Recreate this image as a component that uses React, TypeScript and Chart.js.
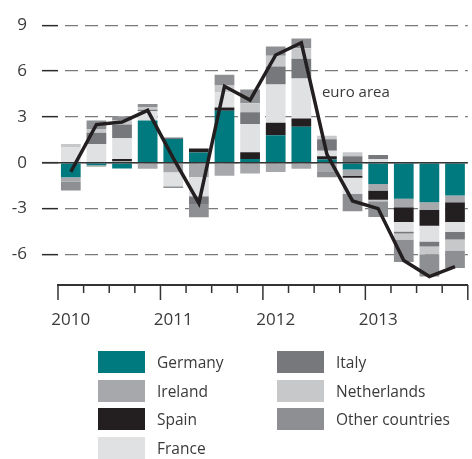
import React, { useEffect, useRef } from 'react';
import { Chart, registerables } from 'chart.js';

Chart.register(...registerables);

// ---------- data ----------
const QUARTERS = [
  '2010 Q1', '2010 Q2', '2010 Q3', '2010 Q4',
  '2011 Q1', '2011 Q2', '2011 Q3', '2011 Q4',
  '2012 Q1', '2012 Q2', '2012 Q3', '2012 Q4',
  '2013 Q1', '2013 Q2', '2013 Q3', '2013 Q4',
];
const Y_TICKS = [-6, -3, 0, 3, 6, 9];

const GERMANY = [-0.95, -0.17, -0.38, 2.77, 1.55, 0.67, 3.4, 0.25, 1.8, 2.36, 0.22, -0.45, -1.39, -2.36, -2.59, -2.14];
const IRELAND = [-0.28, -0.1, 0.1, -0.39, -0.62, -0.93, -0.85, -0.7, -0.6, -0.4, -0.55, -0.42, -0.43, -0.56, -0.51, -0.45];
const SPAIN = [0, 0, 0.15, 0, 0, 0.26, 0.22, 0.43, 0.82, 0.53, 0.2, -0.11, -0.6, -0.96, -1.03, -1.29];
const FRANCE = [1.0, 1.22, 1.35, 0.6, -0.92, -1.27, 1.0, 1.85, 2.5, 2.62, 0.37, -1.05, 0.25, -0.62, -1.03, -0.64];
const ITALY = [0, 0.75, 0.9, 0.1, 0.1, -0.5, 0, 0.78, 1.18, 1.29, 0.75, 0.43, 0.26, -0.13, -0.32, -0.51];
const NETHERLANDS = [0.22, 0.2, 0.26, 0.17, 0, 0, 0.43, 0.58, 0.7, 0.69, 0.22, 0.26, -0.1, -0.4, -0.51, -0.71];
const OTHER = [-0.58, 0.6, 0.28, 0.21, -0.12, -0.86, 0.7, 0.9, 0.6, 0.64, -0.4, -1.14, -1.03, -1.46, -1.46, -1.14];
const EURO_AREA = [-0.6, 2.5, 2.66, 3.43, 0.3, -2.65, 5.0, 4.1, 7.05, 7.85, 0.55, -2.5, -3.0, -6.4, -7.45, -6.8];

const SERIES_LABELS = ['Germany', 'Ireland', 'Spain', 'France', 'Italy', 'Netherlands', 'Other countries'];
const SERIES_VALUES = [GERMANY, IRELAND, SPAIN, FRANCE, ITALY, NETHERLANDS, OTHER];
const SERIES_COLORS = ['#00797f', '#a7a8ab', '#231f20', '#e0e1e3', '#77787b', '#c7c8ca', '#8e8f93'];
const LINE_LABEL = 'euro area';

const FONT = "'Open Sans', 'DejaVu Sans', sans-serif";
const TEXT = '#3a3a3a';

const decor = {
  id: 'decor',
  beforeDatasetDraw(chart: any, args: any) {
    if (args.meta.type !== 'line') return;
    const { ctx, chartArea, scales } = chart;
    const y0 = scales.y.getPixelForValue(0);
    ctx.save();
    ctx.strokeStyle = '#333';
    ctx.lineWidth = 1.5;
    ctx.beginPath();
    ctx.moveTo(chartArea.left - 16, y0);
    ctx.lineTo(chartArea.right, y0);
    ctx.stroke();
    ctx.restore();
  },
  afterDraw(chart: any) {
    const { ctx, chartArea, scales } = chart;
    const xs = scales.x;
    const step = xs.getPixelForValue(1) - xs.getPixelForValue(0);
    const start = xs.getPixelForValue(0) - step / 2;
    ctx.save();
    ctx.strokeStyle = '#333';
    ctx.lineWidth = 1.5;
    for (let i = 0; i <= QUARTERS.length; i++) {
      const px = start + i * step;
      const len = i % 4 === 0 ? 15 : 8;
      ctx.beginPath();
      ctx.moveTo(px, chartArea.bottom);
      ctx.lineTo(px, chartArea.bottom + len);
      ctx.stroke();
    }
    // annotation
    ctx.fillStyle = TEXT;
    ctx.font = `15px ${FONT}`;
    ctx.textBaseline = 'middle';
    ctx.textAlign = 'left';
    ctx.fillText(LINE_LABEL, xs.getPixelForValue(10) - 5, scales.y.getPixelForValue(4.6));
    ctx.restore();
  },
};

export default function App() {
  const ref = useRef<HTMLCanvasElement | null>(null);

  useEffect(() => {
    document.body.style.margin = '0';
    const canvas = ref.current;
    if (!canvas) return;
    const datasets: any[] = SERIES_LABELS.map((label, i) => ({
      type: 'bar',
      label,
      data: SERIES_VALUES[i],
      backgroundColor: SERIES_COLORS[i],
      borderWidth: 0,
      stack: 'countries',
      barPercentage: 0.77,
      categoryPercentage: 1,
      order: 1,
    }));
    datasets.push({
      type: 'line',
      label: LINE_LABEL,
      data: EURO_AREA,
      borderColor: '#231f20',
      borderWidth: 3.5,
      pointRadius: 0,
      tension: 0,
      borderJoinStyle: 'miter',
      stack: 'euro',
      order: 0,
    });

    const chart = new Chart(canvas, {
      type: 'bar',
      data: { labels: QUARTERS, datasets },
      plugins: [decor],
      options: {
        animation: false,
        responsive: false,
        devicePixelRatio: 1,
        layout: { padding: { top: 20, right: 0, bottom: 114, left: 0 } },
        plugins: { legend: { display: false }, tooltip: { enabled: false } },
        scales: {
          x: {
            stacked: true,
            offset: true,
            grid: { display: false },
            border: { display: true, color: '#333', width: 2 },
            ticks: {
              autoSkip: false,
              maxRotation: 0,
              padding: 17,
              color: TEXT,
              font: { family: FONT, size: 17 },
              callback: (_v: any, i: number) => (i % 4 === 0 ? QUARTERS[i].slice(0, 4) : ''),
            },
            afterFit: (s: any) => { s.height = 60; },
          },
          y: {
            stacked: true,
            min: -8,
            max: 9,
            afterBuildTicks: (s: any) => { s.ticks = Y_TICKS.map((v) => ({ value: v })); },
            afterFit: (s: any) => { s.width = 58; },
            grid: {
              color: '#7a7a7a',
              lineWidth: 1.3,
              drawTicks: true,
              tickLength: 16,
              tickColor: '#2b2b2b',
              tickWidth: 1.5,
            },
            border: { display: false, dash: [13, 7], dashOffset: 13 },
            ticks: {
              padding: 15,
              color: TEXT,
              font: { family: FONT, size: 17 },
              callback: (v: any) => String(v),
            },
          },
        },
      } as any,
    });
    return () => chart.destroy();
  }, []);

  const legendItem = (i: number, left: number, top: number) => (
    <div key={SERIES_LABELS[i]} style={{ position: 'absolute', left, top, display: 'flex', alignItems: 'center', height: 22 }}>
      <div style={{ width: 47, height: 22, background: SERIES_COLORS[i] }} />
      <span style={{ marginLeft: 12, font: `15.5px ${FONT}`, color: TEXT, whiteSpace: 'nowrap' }}>{SERIES_LABELS[i]}</span>
    </div>
  );

  const rowTops = [351, 379.5, 408.3, 436.8];
  return (
    <div style={{ position: 'relative', width: 472, height: 459, background: '#fff' }}>
      <canvas ref={ref} width={472} height={459} style={{ position: 'absolute', left: 0, top: 0 }} />
      {SERIES_LABELS.map((_, i) =>
        i < 4 ? legendItem(i, 98, rowTops[i]) : legendItem(i, 277, rowTops[i - 4])
      )}
    </div>
  );
}
